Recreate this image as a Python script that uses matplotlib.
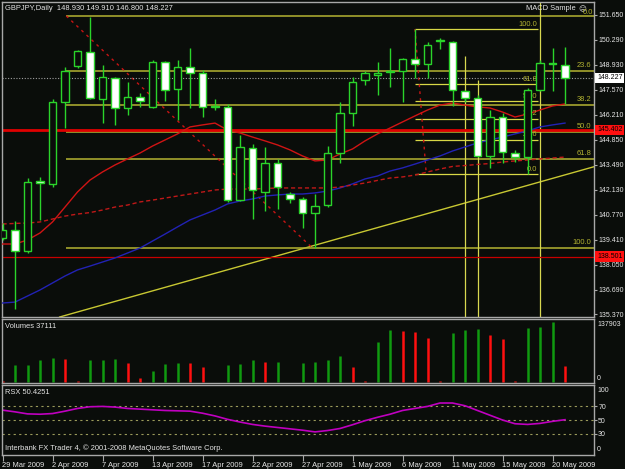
import matplotlib
matplotlib.use('Agg')
import matplotlib.pyplot as plt
from matplotlib.patches import Rectangle
import numpy as np

# ---------------------------------------------------------------------
# GBPJPY daily, 29 Mar 2009 .. 20 May 2009 (46 bars)
opens = [139.52, 139.95, 138.81, 142.60, 142.45, 146.92, 148.87, 149.64, 147.08, 148.22,
         146.59, 147.19, 146.64, 149.09, 147.62, 148.82, 148.49, 146.68, 146.64, 141.58,
         144.41, 142.02, 143.60, 141.91, 141.64, 140.88, 141.31, 144.14, 146.32, 148.11,
         148.38, 148.55, 148.60, 149.26, 148.98, 150.22, 150.18, 147.51, 147.13, 143.98,
         146.10, 144.14, 143.92, 147.57, 149.04, 148.930]
highs = [140.33, 140.44, 142.78, 142.84, 147.08, 148.82, 149.75, 151.54, 148.93, 148.28,
         148.00, 147.41, 149.20, 149.15, 149.20, 149.85, 148.66, 147.08, 146.81, 145.12,
         144.63, 144.47, 143.82, 142.02, 141.75, 141.91, 144.52, 146.92, 148.28, 148.60,
         149.09, 149.85, 149.31, 150.89, 150.18, 150.40, 150.24, 147.57, 147.30, 146.48,
         146.32, 144.30, 147.68, 149.20, 149.85, 149.910]
lows = [139.40, 135.65, 138.70, 140.50, 142.29, 145.50, 148.77, 147.08, 145.77, 145.67,
        146.21, 146.64, 146.60, 146.97, 145.94, 146.59, 146.10, 146.48, 141.47, 141.53,
        140.55, 140.99, 141.10, 141.42, 140.06, 138.97, 141.20, 143.60, 145.61, 147.84,
        147.30, 147.73, 146.92, 148.22, 148.22, 149.80, 146.70, 146.90, 143.90, 143.33,
        143.60, 143.65, 143.00, 147.50, 147.51, 146.800]
closes = [139.95, 138.81, 142.56, 142.50, 146.92, 148.60, 149.69, 147.13, 148.28, 146.59,
          147.19, 146.97, 149.09, 147.57, 148.82, 148.49, 146.64, 146.65, 141.58, 144.47,
          142.13, 143.60, 142.29, 141.64, 140.88, 141.26, 144.14, 146.32, 148.00, 148.49,
          148.49, 148.58, 149.26, 148.98, 150.02, 150.26, 147.57, 147.13, 143.98, 146.10,
          144.20, 143.92, 147.57, 149.04, 148.98, 148.227]
volumes = [2000, 38400, 39000, 50000, 56000, 52000, 2000, 50000, 51000, 52000,
           43700, 9000, 24500, 42000, 44600, 43700, 34500, 1000, 38000, 42000,
           50000, 46000, 46800, 1000, 43700, 46000, 50000, 59000, 34500, 1500,
           92000, 119000, 117000, 115000, 100000, 2000, 113000, 119000, 121000, 109000,
           98000, 2000, 125000, 126000, 137903, 37111]

# moving averages as drawn on the chart
ma_red = [139.19, 139.19, 139.41, 139.79, 140.39, 141.20, 142.02, 142.67, 143.11, 143.49,
          143.82, 144.14, 144.52, 144.85, 145.18, 145.56, 145.67, 145.77, 145.39, 145.23,
          145.01, 144.80, 144.58, 144.31, 143.98, 143.71, 143.76, 144.09, 144.36, 144.80,
          145.18, 145.50, 145.83, 146.16, 146.48, 146.75, 146.86, 146.75, 146.65, 146.59,
          146.37, 146.10, 146.26, 146.48, 146.70, 146.81]
ma_blue = [135.98, 136.03, 136.36, 136.69, 137.07, 137.45, 137.78, 137.99, 138.21, 138.43,
           138.70, 138.97, 139.35, 139.73, 140.12, 140.50, 140.77, 141.04, 141.37, 141.53,
           141.64, 141.80, 141.86, 141.91, 141.91, 141.97, 142.07, 142.24, 142.46, 142.73,
           142.89, 143.16, 143.33, 143.54, 143.76, 143.98, 144.25, 144.47, 144.69, 144.85,
           145.01, 145.18, 145.34, 145.56, 145.67, 145.77]
ma_dash = [140.28, 140.31, 140.33, 140.39, 140.55, 140.71, 140.82, 140.90, 141.04, 141.20,
           141.31, 141.48, 141.58, 141.69, 141.80, 141.91, 142.02, 142.13, 142.18, 142.18,
           142.18, 142.21, 142.24, 142.24, 142.24, 142.24, 142.24, 142.29, 142.40, 142.51,
           142.65, 142.78, 142.84, 142.94, 143.11, 143.27, 143.41, 143.46, 143.52, 143.57,
           143.65, 143.71, 143.76, 143.82, 143.87, 143.92]
rsx = [64.5, 62, 59, 58.5, 59.5, 63, 67, 69.5, 70, 69,
       67, 66, 65, 64, 63.5, 63, 60, 56, 51, 47,
       43.5, 41, 39, 37, 35, 32.5, 34.5, 37.5, 43, 49,
       54, 58.5, 64, 67, 70, 75, 75, 71, 64, 57,
       50, 44.5, 43.5, 45, 48, 50.4251]

price_ticks = [151.65, 150.29, 148.93, 147.57, 146.21, 144.85, 143.49,
               142.13, 140.77, 139.41, 138.05, 136.69, 135.37]
date_bars = [0, 4, 8, 12, 16, 20, 24, 28, 32, 36, 40, 44]
date_labels = ['29 Mar 2009', '2 Apr 2009', '7 Apr 2009', '13 Apr 2009', '17 Apr 2009',
               '22 Apr 2009', '27 Apr 2009', '1 May 2009', '6 May 2009', '11 May 2009',
               '15 May 2009', '20 May 2009']

# drawn objects (bar index, price)
fib_levels = [0.0, 23.6, 38.2, 50.0, 61.8, 100.0]
fib1_start, fib1_high, fib1_end, fib1_low = 5.1, 151.60, 24.8, 138.97
fib2_start, fib2_high, fib2_end, fib2_low = 33.0, 150.89, 33.9, 143.00
fib2_right = 42.85
trend_a = (4.84, 135.27)
trend_b = (47.24, 143.38)
vline_bars = [37, 38, 43]
vline_tops = [149.42, 148.11, 152.5]
red_levels = [145.402, 138.501]
bid = 148.227

# ---------------------------------------------------------------------
BG = '#0a0d0a'
LIME = '#2ad42a'
FRAME = '#a8a8a8'
TXT = '#e6e6e6'
FIB1 = '#b4b432'
FIB2 = '#d8d846'
FS = 5.4
FS_AX = 5.0
W, H = 625, 469

plt.rcParams['font.family'] = ['Liberation Sans', 'DejaVu Sans']
fig = plt.figure(figsize=(6.25, 4.69), dpi=100, facecolor=BG)


def box(top, bottom):
    return [2 / W, 1 - bottom / H, 592 / W, (bottom - top) / H]


ax = fig.add_axes(box(2, 317))
axv = fig.add_axes(box(319, 383), sharex=ax)
axr = fig.add_axes(box(385, 455), sharex=ax)

for a in (ax, axv, axr):
    a.set_facecolor(BG)
    for s in a.spines.values():
        s.set_color(FRAME)
        s.set_linewidth(1)

n = len(opens)
x = np.arange(n)
ax.set_xlim(-0.04, 47.32)
ax.set_ylim(135.219, 152.357)

# --- price panel ------------------------------------------------------
ax.plot(x, ma_blue, color='#2222b4', lw=1, zorder=3)
ax.plot(x, ma_dash, color='#c01818', lw=1, ls=(0, (3, 2)), zorder=3)
ax.plot(x, ma_red, color='#d01414', lw=1, zorder=3)

ax.axline(trend_a, trend_b, color='#c8c832', lw=1, zorder=2)

# fibo 1 (0 at the high, rays to the right)
for lv in fib_levels:
    p = fib1_high - (fib1_high - fib1_low) * lv / 100
    ax.hlines(p, fib1_start, 47.32, color=FIB1, lw=1.1, zorder=2)
    if lv > 0:
        ax.annotate(f'{lv:.1f}', (1, p), xycoords=('axes fraction', 'data'),
                    xytext=(-2, 1.5), textcoords='offset points', ha='right', va='bottom',
                    color=FIB1, fontsize=FS)
ax.plot([fib1_start, fib1_end], [fib1_high, fib1_low], color='#c81414',
        lw=1, ls=(0, (2, 3)), zorder=2)

# fibo 2 (100 at the high)
for lv in fib_levels:
    p = fib2_low + (fib2_high - fib2_low) * lv / 100
    ax.hlines(p, fib2_start, fib2_right, color=FIB2, lw=0.9, zorder=2)
    ax.text(fib2_right - 0.05, p + 0.07, f'{lv:.1f}', ha='right', va='bottom',
            color=FIB1, fontsize=FS)
ax.plot([fib2_start, fib2_end], [fib2_high, fib2_low], color='#c81414',
        lw=1, ls=(0, (2, 3)), zorder=2)

ax.vlines(vline_bars, 135.219, vline_tops, color='#d8d850', lw=0.9, zorder=2)

ax.axhline(red_levels[0], color='#e00000', lw=2, zorder=2)
ax.axhline(red_levels[1], color='#c80000', lw=0.9, zorder=2)
ax.axhline(bid, color='#a0a0a0', lw=0.8, ls=(0, (1, 1.5)), zorder=2)

for i in range(n):
    o, h, l, c = opens[i], highs[i], lows[i], closes[i]
    ax.vlines(i, l, h, color=LIME, lw=1, zorder=5)
    face = '#ffffff' if c < o else BG
    ax.add_patch(Rectangle((i - 0.3, min(o, c)), 0.6, max(abs(c - o), 0.05),
                           facecolor=face, edgecolor=LIME, lw=1, zorder=6))

ax.yaxis.tick_right()
ax.set_yticks(price_ticks)
ax.set_yticklabels([f'{t:.3f}' for t in price_ticks])
ax.tick_params(axis='y', direction='out', length=2, width=0.8, color=FRAME,
               labelsize=FS_AX, labelcolor=TXT, pad=1)
ax.tick_params(axis='x', bottom=False, labelbottom=False)

# --- volumes ----------------------------------------------------------
v = np.array(volumes)
up = np.diff(v, prepend=v[0] + 1) > 0
axv.vlines(x, 0, v, colors=np.where(up, '#109a10', '#ff1010'), lw=1.8)
axv.set_ylim(-2298, 144798)
axv.set_yticks([])
axv.tick_params(axis='x', bottom=False, labelbottom=False)

# --- RSX --------------------------------------------------------------
for lv in (70, 50, 30):
    axr.axhline(lv, color='#9a9a5a', lw=0.8, ls=(0, (2, 3)))
axr.plot(x, rsx, color='#c000c0', lw=1.2)
axr.set_ylim(-1.5, 101.5)
axr.yaxis.tick_right()
axr.set_yticks([70, 50, 30])
axr.tick_params(axis='y', direction='out', length=2, width=0.8, color=FRAME,
                labelsize=FS_AX, labelcolor=TXT, pad=1)
axr.set_xticks(date_bars)
axr.set_xticklabels(date_labels)
axr.tick_params(axis='x', direction='out', length=4, width=0.8, color=FRAME,
                labelsize=FS, labelcolor=TXT, pad=1)
for lbl in axr.get_xticklabels():
    lbl.set_ha('left')


# --- texts in pixel positions ----------------------------------------
def ftext(px, py, s, **kw):
    kw.setdefault('color', TXT)
    kw.setdefault('fontsize', FS)
    kw.setdefault('va', 'center')
    fig.text(px / W, 1 - py / H, s, **kw)


ftext(5, 9, 'GBPJPY,Daily  148.930 149.910 146.800 148.227')
ftext(576, 9, 'MACD Sample', ha='right')
ftext(578, 9, '\u2639', fontsize=FS, family='DejaVu Sans')
ftext(593, 12, '0.0', ha='right', color=FIB1)
ftext(5, 326, 'Volumes 37111')
ftext(5, 392, 'RSX 50.4251')
ftext(5, 448, 'Interbank FX Trader 4, \u00a9 2001-2008 MetaQuotes Software Corp.')
ftext(597, 324, '137903', fontsize=FS_AX)
ftext(597, 378, '0', fontsize=FS_AX)
ftext(597, 390, '100', fontsize=FS_AX)
ftext(597, 449, '0', fontsize=FS_AX)

price_to_y = lambda p: 15 + (151.65 - p) * 18.38
ftext(597, price_to_y(bid), '148.227', color='black', fontsize=FS_AX,
      bbox=dict(boxstyle='square,pad=0.25', facecolor='white', edgecolor='none'))
for lv in red_levels:
    ftext(597, price_to_y(lv), f'{lv:.3f}', color='black', fontsize=FS_AX,
          bbox=dict(boxstyle='square,pad=0.25', facecolor='#ff1010', edgecolor='none'))

fig.savefig('out.png', dpi=100, facecolor=BG)
